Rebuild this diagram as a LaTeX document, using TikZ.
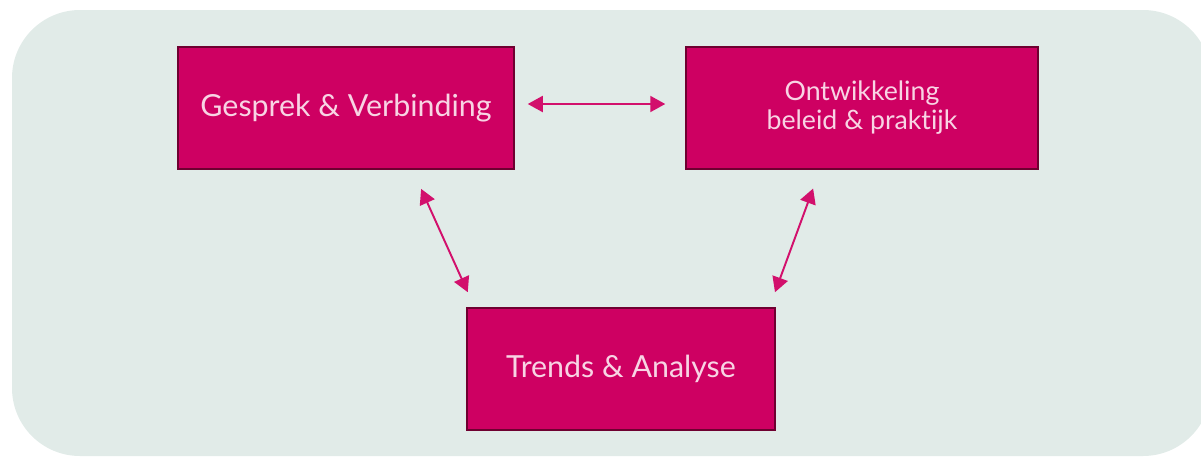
\documentclass[tikz,border=0pt]{standalone}
\usepackage{fontspec}
\setmainfont{Lato}[Ligatures=NoCommon]
\usetikzlibrary{arrows.meta}
\definecolor{bgmint}{RGB}{225,235,232}
\definecolor{boxpink}{RGB}{206,0,98}
\definecolor{boxedge}{RGB}{110,0,48}
\definecolor{arrowpink}{RGB}{210,16,108}
\definecolor{textpink}{RGB}{248,212,228}

\begin{document}
\begin{tikzpicture}[x=0.02cm, y=-0.02cm,
  block/.style={draw=boxedge, line width=0.9pt, fill=boxpink, text=textpink,
    minimum height=2.44cm, inner sep=0pt, align=center},
  link/.style={arrowpink, line width=1.1pt,
    {Triangle[length=0.3cm,width=0.32cm]}-{Triangle[length=0.3cm,width=0.32cm]}}]
\useasboundingbox (0,0) rectangle (1201,457);
\clip (0,0) rectangle (1201,457);
\fill[bgmint, rounded corners=1.36cm] (12,10) rectangle (1211,456);

\node[block, minimum width=6.72cm, font=\fontsize{17.3}{20}\selectfont] (gv) at (346,108) {Gesprek \& Verbinding};
\node[block, minimum width=7.04cm, font=\fontsize{15.2}{16}\selectfont] (obp) at (862,108) {Ontwikkeling\\[0.5pt]beleid \& praktijk};
\node[block, minimum width=6.16cm, font=\fontsize{17.3}{20}\selectfont] (tr) at (621,369) {Trends \& Analyse};

\draw[link, shorten <=0.26cm, shorten >=0.4cm] ([yshift=0.08cm]gv.east) -- ([yshift=0.08cm]obp.west);
\draw[link, shorten <=0.42cm, shorten >=0.33cm] ([xshift=1.33cm]gv.south) -- ([xshift=-2.93cm]tr.north);
\draw[link, shorten <=0.40cm, shorten >=0.32cm] ([xshift=-0.84cm]obp.south) -- ([xshift=2.97cm]tr.north);
\end{tikzpicture}
\end{document}
